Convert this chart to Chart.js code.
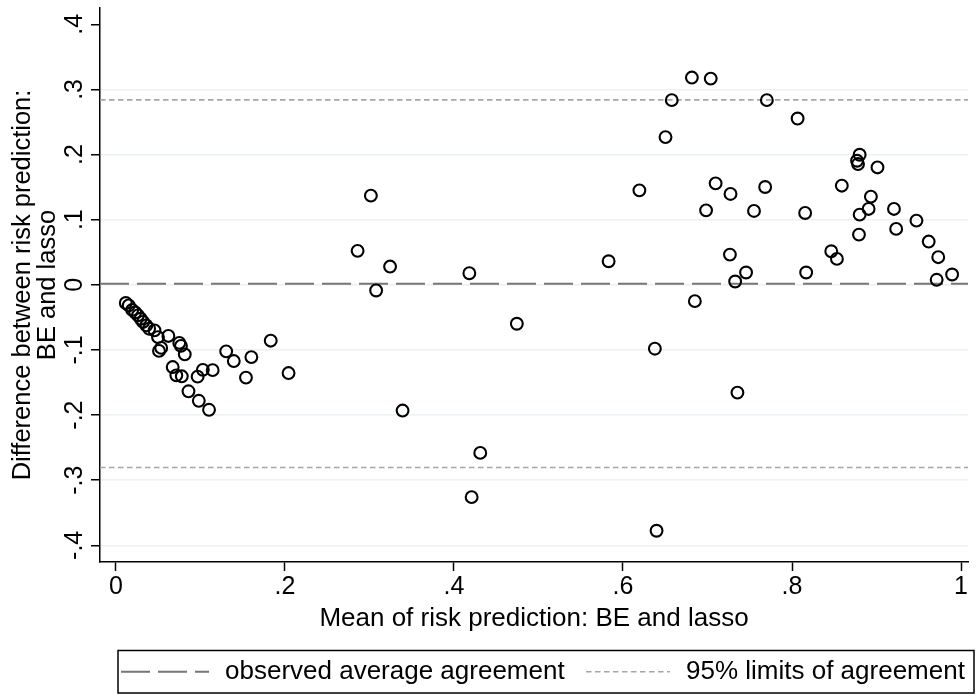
<!DOCTYPE html>
<html>
<head>
<meta charset="utf-8">
<title>Bland-Altman plot: BE vs lasso</title>
<script src="https://cdn.jsdelivr.net/npm/chart.js@4.4.0/dist/chart.umd.min.js"></script>
<style>
  body { margin: 0; background: #fff; }
  canvas { display: block; }
</style>
</head>
<body>
<canvas id="baChart" width="976" height="695"></canvas>
<script>
// mean of the two risk predictions (x) and the difference BE - lasso (y), one per subject
const meanRisk = [
  0.0117, 0.0152, 0.0193, 0.0229, 0.0261, 0.0293, 0.0322, 0.0360, 0.0393, 0.0457,
  0.0498, 0.0621, 0.0536, 0.0510, 0.0750, 0.0770, 0.0815, 0.0672, 0.0715, 0.0780,
  0.0859, 0.0981, 0.1102, 0.0967, 0.1029, 0.1145, 0.1305, 0.1395, 0.1539, 0.1603,
  0.1832, 0.2043,
  0.2860, 0.3017, 0.3079, 0.3244, 0.3392, 0.4182, 0.4209, 0.4311, 0.4744,
  0.5830, 0.6194, 0.6377, 0.6397, 0.6503, 0.6577, 0.6815, 0.6850, 0.6983, 0.7038,
  0.7096, 0.7265, 0.7272, 0.7327, 0.7354, 0.7456, 0.7550, 0.7682, 0.7702, 0.8066,
  0.8155, 0.8167, 0.8464, 0.8531, 0.8589, 0.8769, 0.8781, 0.8792, 0.8800, 0.8800,
  0.8906, 0.8933, 0.9011, 0.9206, 0.9232, 0.9472, 0.9617, 0.9711, 0.9730, 0.9894
];
const diffRisk = [
  -0.0279, -0.0317, -0.0386, -0.0425, -0.0470, -0.0521, -0.0570, -0.0624, -0.0674, -0.0700,
  -0.0803, -0.0785, -0.0969, -0.1015, -0.0892, -0.0938, -0.1068, -0.1263, -0.1390, -0.1405,
  -0.1635, -0.1781, -0.1919, -0.1410, -0.1306, -0.1310, -0.1022, -0.1171, -0.1425, -0.1110,
  -0.0858, -0.1355,
  0.0521, 0.1369, -0.0087, 0.0280, -0.1931, 0.0178, -0.3260, -0.2581, -0.0598,
  0.0362, 0.1450, -0.0981, -0.3776, 0.2268, 0.2835, 0.3182, -0.0251, 0.1143, 0.3166,
  0.1557, 0.0464, 0.1395, 0.0051, -0.1655, 0.0189, 0.1134, 0.1502, 0.2835, 0.2553,
  0.1103, 0.0189, 0.0515, 0.0398, 0.1522, 0.1905, 0.1854, 0.0771, 0.1997, 0.1077,
  0.1165, 0.1353, 0.1802, 0.1165, 0.0858, 0.0985, 0.0664, 0.0077, 0.0424, 0.0158
];

// agreement lines
const meanDiff = 0.0015;
const upperLimit = 0.284;
const lowerLimit = -0.2805;

// axes
const xTicks = [0, 0.2, 0.4, 0.6, 0.8, 1];
const xTickLabels = ['0', '.2', '.4', '.6', '.8', '1'];
const yTicks = [-0.4, -0.3, -0.2, -0.1, 0, 0.1, 0.2, 0.3, 0.4];
const yTickLabels = ['-.4', '-.3', '-.2', '-.1', '0', '.1', '.2', '.3', '.4'];
const xMin = -0.0188, xMax = 1.0082;
const yMin = -0.4256, yMax = 0.425;

const FONT = "'Liberation Sans', Arial, Helvetica, sans-serif";
Chart.defaults.font.family = FONT;
Chart.defaults.color = '#000';

function hLine(y)
{
    return [{x: xMin, y: y}, {x: xMax, y: y}];
}

const points = meanRisk.map(function(x, i) { return {x: x, y: diffRisk[i]}; });

// Stata style legend: framed box under the plot with two line keys
// (the built-in legend drops borderDash when it uses point styles, so it is drawn here)
const legendKeys = [
    {dataset: 0, lineFrom: 121, lineTo: 209, textX: 225},
    {dataset: 1, lineFrom: 586, lineTo: 670, textX: 686}
];

const stataLegend = {
    id: 'stataLegend',
    afterDraw(chart) {
        const ctx = chart.ctx;
        const boxTop = 650.5, boxBottom = 693;
        const midY = (boxTop + boxBottom) / 2;
        ctx.save();
        ctx.strokeStyle = '#000';
        ctx.lineWidth = 1.5;
        ctx.setLineDash([]);
        ctx.strokeRect(118, boxTop, 974 - 118, boxBottom - boxTop);

        legendKeys.forEach(function(k) {
            const ds = chart.data.datasets[k.dataset];
            ctx.beginPath();
            ctx.strokeStyle = ds.borderColor;
            ctx.lineWidth = ds.borderWidth;
            ctx.setLineDash(ds.borderDash);
            ctx.moveTo(k.lineFrom, midY);
            ctx.lineTo(k.lineTo, midY);
            ctx.stroke();

            ctx.setLineDash([]);
            ctx.fillStyle = '#000';
            ctx.font = '26px ' + FONT;
            ctx.textBaseline = 'middle';
            ctx.textAlign = 'left';
            ctx.fillText(ds.label, k.textX, midY);
        });
        ctx.restore();
    }
};

const ctx = document.getElementById('baChart').getContext('2d');
const baChart = new Chart(ctx, {
    type: 'scatter',
    data: {
        datasets: [
            {
                label: 'observed average agreement',
                data: hLine(meanDiff),
                showLine: true,
                borderColor: '#767676',
                borderWidth: 2,
                borderDash: [29, 8],
                pointRadius: 0,
                order: 1
            },
            {
                label: '95% limits of agreement',
                data: hLine(upperLimit),
                showLine: true,
                borderColor: '#a6a6a6',
                borderWidth: 1.6,
                borderDash: [5.5, 3.5],
                pointRadius: 0,
                order: 1
            },
            {
                label: 'lower limit',
                data: hLine(lowerLimit),
                showLine: true,
                borderColor: '#a6a6a6',
                borderWidth: 1.6,
                borderDash: [5.5, 3.5],
                pointRadius: 0,
                order: 1
            },
            {
                label: 'difference',
                data: points,
                pointStyle: 'circle',
                pointRadius: 5.9,
                pointHoverRadius: 5.9,
                borderWidth: 2.1,
                borderColor: '#000',
                backgroundColor: 'rgba(0,0,0,0)',
                order: 0
            }
        ]
    },
    options: {
        responsive: false,
        animation: false,
        layout: { padding: { top: 7, right: 0, bottom: 60, left: 0 } },
        plugins: {
            tooltip: { enabled: false },
            legend: { display: false }
        },
        scales: {
            x: {
                type: 'linear',
                min: xMin,
                max: xMax,
                afterBuildTicks: function(s) { s.ticks = xTicks.map(function(v) { return {value: v}; }); },
                afterFit: function(s) { s.height = 73; s.paddingLeft = 0; s.paddingRight = 0; },
                ticks: {
                    autoSkip: false,
                    maxRotation: 0,
                    padding: 1,
                    font: { size: 25 },
                    callback: function(v) { return xTickLabels[xTicks.indexOf(v)]; }
                },
                grid: {
                    drawOnChartArea: false,
                    drawTicks: true,
                    tickLength: 9,
                    tickColor: '#000',
                    tickWidth: 1.5
                },
                border: { display: true, color: '#000', width: 1.5 },
                title: {
                    display: true,
                    text: 'Mean of risk prediction: BE and lasso',
                    font: { size: 26, lineHeight: 1.2 },
                    padding: { top: 0, bottom: 1 }
                }
            },
            y: {
                type: 'linear',
                min: yMin,
                max: yMax,
                afterBuildTicks: function(s) { s.ticks = yTicks.map(function(v) { return {value: v}; }); },
                afterFit: function(s) { s.width = 100; s.paddingTop = 0; s.paddingBottom = 0; },
                ticks: {
                    autoSkip: false,
                    minRotation: 90,
                    maxRotation: 90,
                    crossAlign: 'center',
                    padding: 1,
                    font: { size: 25 },
                    callback: function(v) { return yTickLabels[yTicks.indexOf(v)]; }
                },
                grid: {
                    color: function(c) { return (c.tick && c.tick.value === 0.4) ? 'rgba(0,0,0,0)' : '#eaf1f3'; },
                    lineWidth: 1.5,
                    tickLength: 9,
                    tickColor: '#000',
                    tickWidth: 1.5
                },
                border: { display: true, color: '#000', width: 1.5 },
                title: {
                    display: true,
                    text: ['Difference between risk prediction:', 'BE and lasso'],
                    font: { size: 25.5, lineHeight: 1.0 },
                    padding: { top: 10, bottom: 0 }
                }
            }
        }
    },
    plugins: [stataLegend]
});
</script>
</body>
</html>
